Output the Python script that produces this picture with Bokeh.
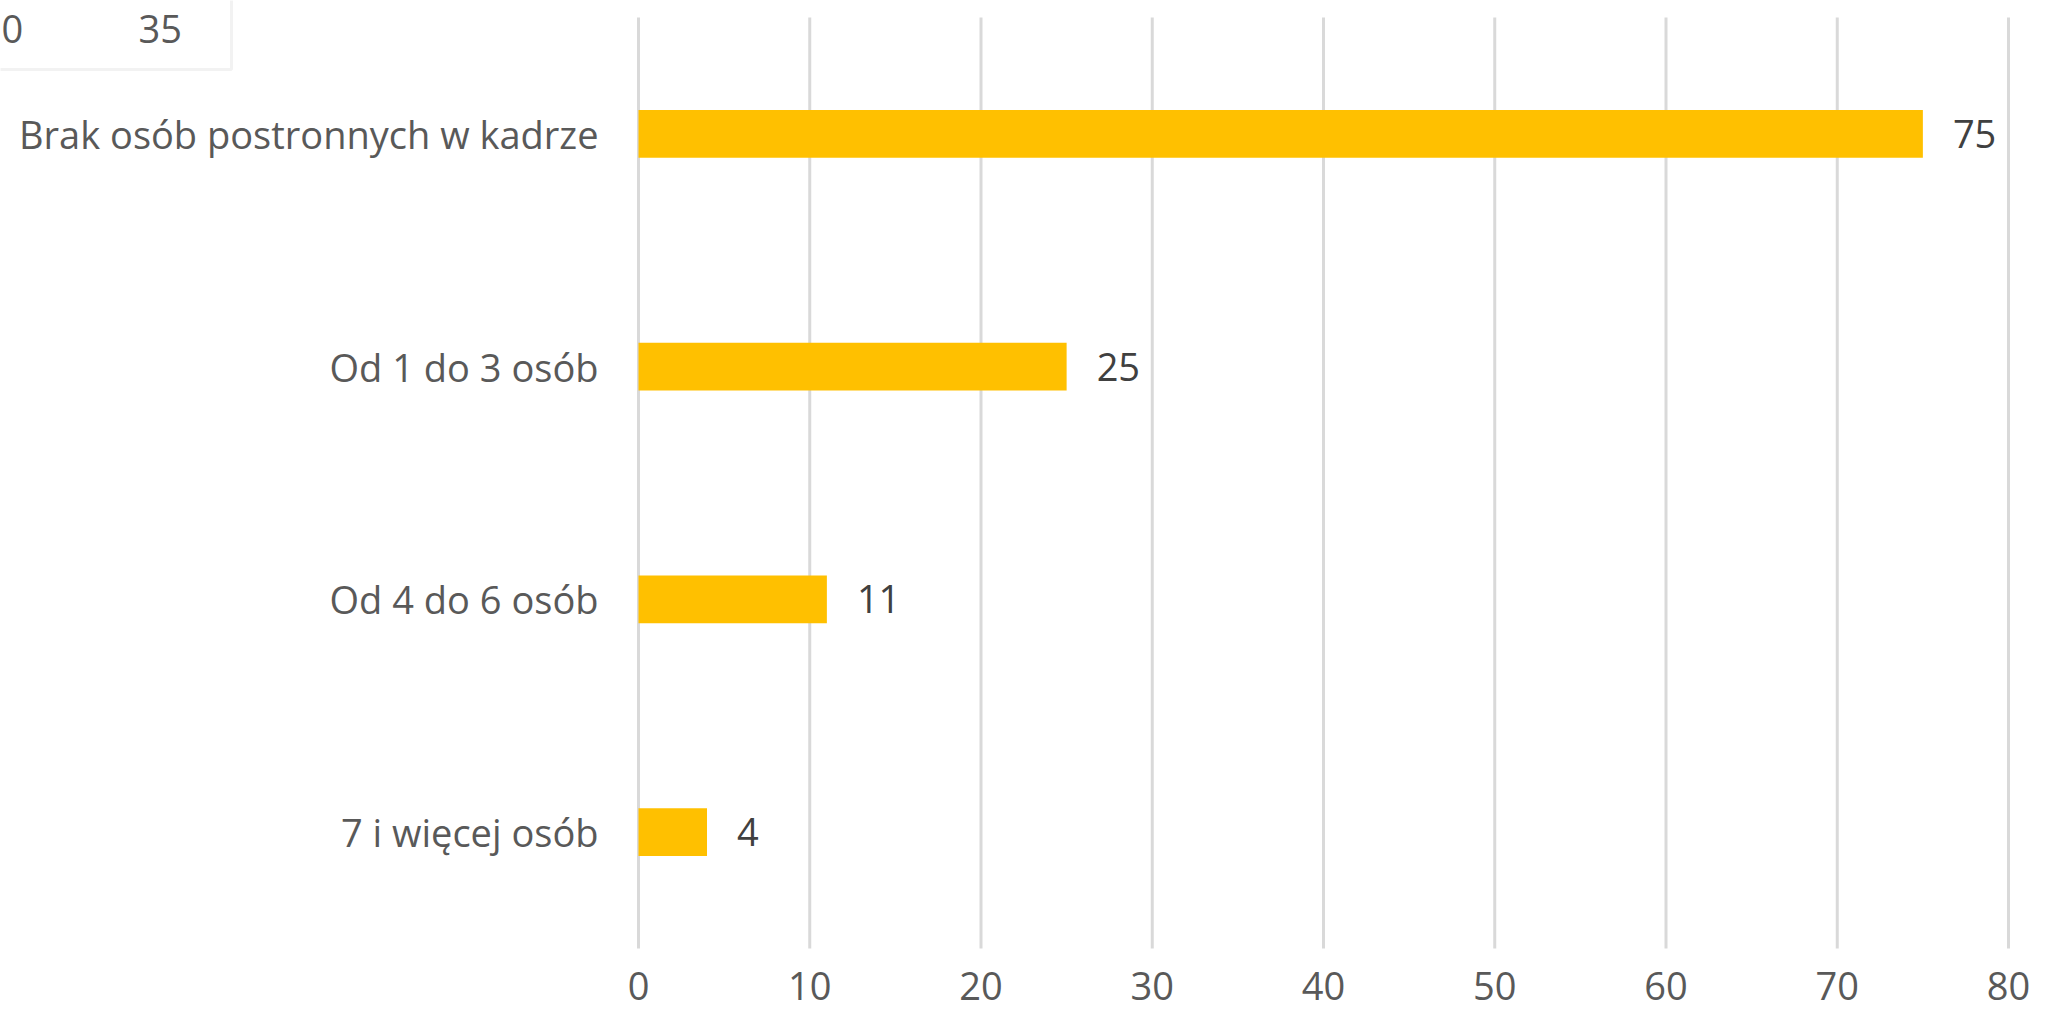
from bokeh.plotting import figure
from bokeh.models import ColumnDataSource, Range1d, FixedTicker, Label, BoxAnnotation
from bokeh.core.properties import value
from bokeh.embed import file_html
from bokeh.resources import INLINE

# Data (top to bottom as shown)
categories = ["Brak osób postronnych w kadrze", "Od 1 do 3 osób", "Od 4 do 6 osób", "7 i więcej osób"]
values = [75, 25, 11, 4]
x_ticks = [0, 10, 20, 30, 40, 50, 60, 70, 80]
stray_texts = ["0", "35"]

FONT = "Open Sans"
FS = "38px"
GRAY = "#595959"

# layout (canvas pixels)
W, H = 2043, 1011
FRAME_L, FRAME_R, FRAME_T, FRAME_B = 638, 2008, 17, 948
X_MAX = x_ticks[-1]
n = len(categories)
pxx = (FRAME_R - FRAME_L) / X_MAX
pxy = (FRAME_B - FRAME_T) / n

ypos = [n - i - 0.5 for i in range(n)]
source = ColumnDataSource(dict(y=ypos, val=values, lab=[str(v) for v in values]))

p = figure(
    width=W, height=H,
    x_range=Range1d(-FRAME_L / pxx, (W - FRAME_L) / pxx),
    y_range=Range1d(-(H - FRAME_B) / pxy, n + FRAME_T / pxy),
    output_backend="svg", toolbar_location=None,
    min_border=0, min_border_left=0, min_border_right=0, min_border_top=0, min_border_bottom=0,
)
p.outline_line_color = None
p.background_fill_color = "white"
p.border_fill_color = "white"
p.xgrid.visible = False
p.ygrid.visible = False

# vertical gridlines at the x ticks, spanning the category area
p.segment(x0=x_ticks, x1=x_ticks, y0=[0] * len(x_ticks), y1=[n] * len(x_ticks),
          line_color="#D9D9D9", line_width=3)

p.hbar(y="y", right="val", left=0, height=0.206, source=source,
       fill_color="#FFC000", line_color=None)

p.text(x="val", y="y", text="lab", source=source, x_offset=30,
       text_align="left", text_baseline="middle",
       text_font=value(FONT), text_font_size=FS, text_color="#404040")

# axes
for ax in (p.xaxis, p.yaxis):
    ax.axis_line_color = None
    ax.major_tick_line_color = None
    ax.minor_tick_line_color = None
    ax.major_tick_out = 0
    ax.major_tick_in = 0
    ax.major_label_text_font = FONT
    ax.major_label_text_font_size = FS
    ax.major_label_text_color = GRAY
    ax.fixed_location = 0
p.xaxis.ticker = FixedTicker(ticks=x_ticks)
p.xaxis.major_label_standoff = 23
p.yaxis.ticker = FixedTicker(ticks=ypos)
p.yaxis.major_label_overrides = {y: c for y, c in zip(ypos, categories)}
p.yaxis.major_label_standoff = 40

# stray box fragment in the top-left corner
box = BoxAnnotation(left=-20, right=231, top=H + 20, bottom=H - 69,
                    left_units="screen", right_units="screen",
                    top_units="screen", bottom_units="screen",
                    fill_color=None, fill_alpha=0, line_color="#D4D4D4", line_width=3)
p.add_layout(box)
for txt, xs in zip(stray_texts, [1, 138]):
    p.add_layout(Label(x=xs, y=H - 28, x_units="screen", y_units="screen", text=txt,
                       text_font=FONT, text_font_size=FS, text_color=GRAY,
                       text_align="left", text_baseline="alphabetic"))

open("out.html", "w").write(file_html(p, INLINE))
